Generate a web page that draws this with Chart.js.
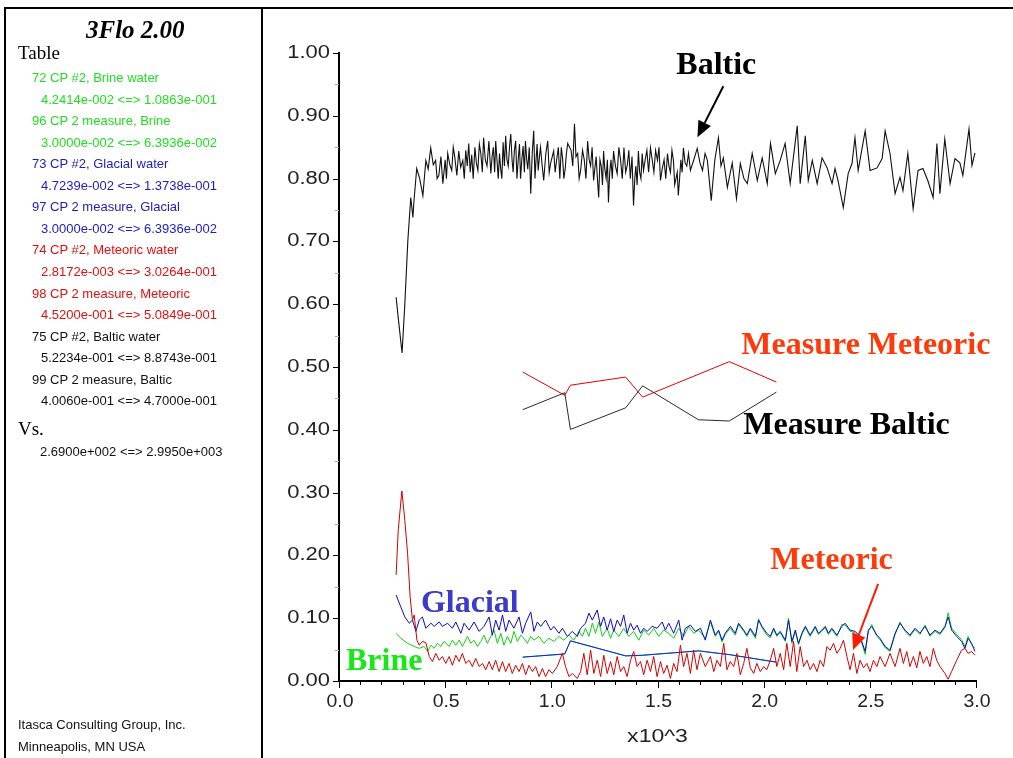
<!DOCTYPE html>
<html>
<head>
<meta charset="utf-8">
<title>3Flo 2.00 - CP #2 water fractions</title>
<script src="https://cdn.jsdelivr.net/npm/chart.js@4.4.1/dist/chart.umd.min.js"></script>
<style>
  html, body { margin: 0; padding: 0; background: #fff; width: 1013px; height: 758px; overflow: hidden; }
  #wrap { position: relative; width: 1013px; height: 758px; }
  #plot { position: absolute; left: 0; top: 0; }
  .rule { position: absolute; background: #000; z-index: 2; }
  .txt { position: absolute; white-space: nowrap; z-index: 3; transform: translateY(-50%);
         font-family: "Liberation Sans", Arial, sans-serif; font-size: 13px; line-height: 16px; }
  .serif { font-family: "Liberation Serif", "Times New Roman", serif; }
  #title { font-weight: bold; font-style: italic; font-size: 25px; line-height: 28px; }
  .head { font-size: 19px; line-height: 22px; }
</style>
</head>
<body>
<div id="wrap">
  <canvas id="plot" width="1013" height="758"></canvas>
  <div class="rule" style="left:4px;top:7px;width:2px;height:751px"></div>
  <div class="rule" style="left:4px;top:7px;width:1009px;height:2px"></div>
  <div class="rule" style="left:261px;top:7px;width:2px;height:751px"></div>
  <div id="panel"></div>
</div>
<script>
// ---- time axis values (x) and water fractions (y) per curve ----
const brine = [[269,.076],[291,.068],[323,.060],[354,.055],[378,.052],[401,.055],[417,.047],[433,.057],[448,.052],[464,.060],[480,.055],[495,.063],[519,.055],[534,.065],[550,.057],[566,.065],[581,.055],[605,.071],[621,.060],[636,.065],[652,.055],[668,.063],[683,.073],[699,.060],[715,.071],[730,.081],[746,.060],[762,.076],[777,.057],[793,.071],[809,.060],[824,.079],[840,.063],[856,.073],[871,.068],[887,.060],[903,.071],[918,.065],[942,.071],[965,.060],[989,.068],[1012,.063],[1036,.071],[1059,.065],[1083,.073],[1106,.065],[1130,.079],[1146,.071],[1161,.084],[1177,.071],[1193,.092],[1208,.076],[1224,.094],[1240,.071],[1263,.084],[1279,.068],[1294,.081],[1318,.071],[1341,.084],[1365,.071],[1388,.079],[1412,.065],[1435,.081],[1459,.073],[1482,.084],[1506,.071],[1529,.081],[1553,.076],[1576,.068],[1600,.084],[1623,.071],[1647,.087],[1670,.076],[1694,.081],[1725,.068],[1749,.094],[1772,.071],[1788,.079],[1804,.062],[1819,.074],[1843,.084],[1866,.073],[1882,.090],[1906,.079],[1921,.071],[1937,.082],[1961,.068],[1976,.099],[1992,.085],[2015,.073],[2031,.069],[2047,.082],[2062,.071],[2078,.077],[2102,.063],[2117,.100],[2133,.060],[2149,.079],[2164,.058],[2180,.074],[2196,.085],[2219,.071],[2243,.085],[2258,.074],[2274,.079],[2290,.085],[2305,.074],[2321,.082],[2345,.071],[2368,.090],[2384,.089],[2407,.079],[2431,.077],[2454,.069],[2478,.0424],[2493,.079],[2509,.090],[2533,.071],[2548,.066],[2572,.053],[2595,.047],[2619,.074],[2642,.094],[2666,.079],[2689,.071],[2713,.082],[2736,.074],[2760,.089],[2783,.071],[2807,.079],[2830,.074],[2854,.085],[2869,.1086],[2885,.084],[2909,.074],[2932,.066],[2948,.055],[2963,.071],[2979,.058],[2995,.052]];

const glacial = [[269,.137],[291,.118],[310,.102],[331,.092],[346,.097],[362,.079],[378,.097],[393,.102],[409,.084],[433,.092],[448,.087],[472,.094],[487,.087],[511,.092],[534,.084],[550,.094],[574,.076],[589,.092],[613,.081],[636,.094],[660,.079],[683,.087],[707,.102],[722,.073],[738,.097],[754,.081],[770,.105],[785,.079],[801,.097],[824,.084],[848,.102],[864,.076],[879,.092],[903,.110],[918,.079],[934,.094],[950,.087],[973,.097],[997,.081],[1012,.087],[1036,.076],[1052,.084],[1075,.071],[1099,.079],[1122,.071],[1138,.084],[1161,.092],[1177,.108],[1193,.097],[1216,.113],[1232,.087],[1247,.102],[1263,.081],[1279,.099],[1294,.079],[1310,.097],[1326,.087],[1341,.105],[1357,.076],[1373,.092],[1388,.081],[1404,.089],[1420,.076],[1435,.084],[1451,.079],[1475,.087],[1498,.084],[1522,.094],[1537,.081],[1553,.092],[1576,.076],[1600,.097],[1616,.065],[1631,.084],[1655,.089],[1678,.079],[1702,.084],[1725,.065],[1749,.097],[1772,.073],[1788,.081],[1804,.065],[1819,.076],[1843,.087],[1866,.076],[1882,.092],[1906,.081],[1921,.073],[1937,.084],[1961,.071],[1976,.097],[1992,.087],[2015,.076],[2031,.071],[2047,.084],[2062,.073],[2078,.079],[2102,.065],[2117,.097],[2133,.063],[2149,.081],[2164,.060],[2180,.076],[2196,.087],[2219,.073],[2243,.087],[2258,.076],[2274,.081],[2290,.087],[2305,.076],[2321,.084],[2345,.073],[2368,.087],[2384,.092],[2407,.081],[2431,.079],[2454,.071],[2478,.047],[2493,.081],[2509,.087],[2533,.073],[2548,.068],[2572,.055],[2595,.049],[2619,.076],[2642,.092],[2666,.081],[2689,.073],[2713,.084],[2736,.076],[2760,.087],[2783,.073],[2807,.081],[2830,.076],[2854,.087],[2869,.102],[2885,.081],[2909,.071],[2932,.063],[2948,.052],[2963,.068],[2979,.060],[2995,.0472]];

const meteoric = [[269,.169],[279,.240],[296,.3026],[310,.256],[323,.203],[335,.134],[346,.097],[354,.105],[367,.065],[378,.057],[393,.063],[409,.061],[425,.039],[440,.031],[456,.044],[472,.033],[487,.039],[503,.028],[519,.039],[534,.025],[550,.041],[566,.031],[581,.044],[597,.028],[613,.033],[628,.023],[644,.036],[660,.023],[676,.028],[691,.018],[707,.031],[722,.018],[738,.033],[754,.015],[770,.031],[785,.015],[801,.028],[816,.012],[832,.025],[848,.015],[864,.028],[879,.010],[895,.025],[911,.015],[926,.023],[942,.007],[958,.020],[973,.007],[989,.018],[1005,.012],[1028,.023],[1052,.044],[1067,.023],[1083,.007],[1099,.012],[1122,.004],[1138,.015],[1153,.044],[1169,.010],[1185,.049],[1200,.012],[1216,.033],[1232,.007],[1247,.041],[1263,.012],[1279,.031],[1294,.010],[1310,.039],[1326,.015],[1341,.023],[1357,.007],[1373,.033],[1388,.047],[1404,.023],[1420,.031],[1435,.010],[1451,.033],[1467,.015],[1482,.039],[1498,.007],[1514,.031],[1529,.012],[1545,.025],[1561,.004],[1576,.028],[1592,.015],[1608,.057],[1623,.023],[1639,.044],[1655,.012],[1670,.049],[1686,.018],[1702,.044],[1725,.023],[1749,.039],[1765,.015],[1780,.033],[1796,.023],[1812,.060],[1827,.018],[1843,.031],[1859,.023],[1874,.044],[1890,.010],[1906,.028],[1921,.052],[1937,.021],[1953,.012],[1968,.028],[1984,.015],[2000,.023],[2015,.018],[2031,.033],[2047,.052],[2062,.023],[2078,.044],[2094,.018],[2109,.060],[2125,.023],[2141,.063],[2156,.015],[2172,.055],[2188,.023],[2204,.033],[2219,.018],[2235,.028],[2251,.015],[2266,.033],[2282,.023],[2298,.055],[2313,.049],[2329,.060],[2345,.044],[2360,.052],[2376,.065],[2392,.039],[2407,.018],[2423,.044],[2439,.012],[2454,.033],[2470,.021],[2486,.028],[2501,.015],[2517,.033],[2533,.023],[2548,.039],[2572,.023],[2595,.044],[2619,.023],[2642,.052],[2658,.028],[2674,.047],[2689,.023],[2705,.039],[2721,.021],[2736,.047],[2752,.028],[2768,.039],[2783,.023],[2799,.052],[2815,.033],[2830,.023],[2854,.012],[2869,.0028],[2885,.015],[2909,.033],[2932,.049],[2948,.052],[2963,.044],[2979,.047],[2995,.041]];

const baltic = [[269,.611],[280,.575],[297,.5223],[310,.60],[324,.70],[338,.77],[348,.738],[352,.76],[366,.816],[380,.80],[395,.773],[409,.829],[420,.815],[432,.849],[444,.822],[455,.829],[462,.80],[470,.805],[480,.835],[489,.792],[500,.83],[506,.80],[512,.84],[522,.822],[531,.813],[538,.85],[545,.835],[555,.805],[564,.844],[573,.818],[583,.829],[590,.80],[597,.845],[604,.82],[611,.856],[618,.81],[625,.838],[632,.80],[640,.85],[647,.825],[654,.813],[661,.855],[668,.84],[675,.81],[681,.865],[689,.83],[697,.82],[706,.86],[715,.808],[721,.835],[727,.85],[733,.81],[738,.86],[744,.83],[750,.80],[756,.84],[761,.817],[767,.80],[773,.858],[779,.82],[785,.868],[791,.83],[797,.82],[803,.85],[809,.871],[815,.83],[820,.81],[826,.845],[832,.86],[838,.80],[844,.83],[850,.855],[855,.80],[861,.83],[867,.852],[873,.81],[878,.86],[884,.83],[889,.815],[896,.85],[903,.776],[910,.84],[917,.876],[923,.80],[928,.83],[933,.855],[938,.813],[944,.835],[949,.85],[957,.82],[964,.797],[974,.84],[983,.86],[990,.81],[997,.825],[1011,.844],[1018,.81],[1025,.83],[1033,.85],[1040,.80],[1047,.85],[1053,.832],[1059,.80],[1065,.815],[1071,.84],[1077,.856],[1093,.845],[1101,.82],[1109,.8874],[1116,.835],[1124,.84],[1131,.80],[1138,.813],[1147,.845],[1155,.83],[1163,.80],[1171,.86],[1178,.83],[1185,.82],[1192,.85],[1199,.797],[1211,.835],[1217,.80],[1223,.77],[1229,.83],[1235,.82],[1241,.79],[1246,.844],[1252,.815],[1258,.80],[1264,.83],[1269,.762],[1275,.81],[1281,.83],[1287,.80],[1293,.844],[1302,.82],[1310,.808],[1318,.85],[1326,.83],[1334,.80],[1342,.849],[1350,.81],[1358,.822],[1365,.845],[1372,.80],[1380,.835],[1387,.757],[1393,.80],[1398,.82],[1404,.79],[1410,.844],[1416,.81],[1422,.80],[1428,.84],[1434,.813],[1442,.83],[1450,.845],[1458,.81],[1467,.849],[1475,.83],[1483,.81],[1491,.845],[1500,.829],[1507,.85],[1514,.797],[1522,.815],[1531,.83],[1539,.80],[1547,.84],[1554,.82],[1561,.81],[1568,.845],[1575,.829],[1581,.79],[1587,.80],[1593,.81],[1598,.773],[1604,.80],[1610,.83],[1616,.81],[1622,.849],[1630,.825],[1638,.82],[1646,.84],[1655,.813],[1671,.83],[1687,.848],[1700,.825],[1712,.813],[1724,.84],[1735,.829],[1753,.765],[1770,.83],[1787,.865],[1799,.82],[1810,.833],[1829,.786],[1852,.825],[1872,.768],[1890,.824],[1907,.80],[1923,.792],[1946,.84],[1970,.797],[1993,.833],[2017,.792],[2032,.856],[2055,.808],[2078,.829],[2101,.856],[2125,.792],[2158,.884],[2172,.792],[2196,.868],[2210,.797],[2229,.829],[2252,.792],[2275,.833],[2299,.817],[2322,.792],[2336,.816],[2350,.797],[2375,.754],[2398,.808],[2416,.824],[2430,.865],[2445,.813],[2478,.876],[2501,.813],[2534,.817],[2558,.832],[2572,.876],[2595,.84],[2619,.776],[2642,.802],[2656,.781],[2679,.84],[2704,.752],[2727,.813],[2750,.816],[2773,.797],[2798,.77],[2816,.856],[2830,.776],[2853,.863],[2878,.792],[2901,.832],[2924,.825],[2938,.805],[2958,.856],[2967,.879],[2981,.821],[2995,.841]];

// measured values at the sampling times
const measureTimes    = [865, 1063, 1090, 1350, 1430, 1693, 1838, 2060];
const measureBrine    = [0.038, 0.043, 0.0639, 0.040, 0.041, 0.048, 0.042, 0.030];
const measureGlacial  = [0.038, 0.043, 0.0639, 0.040, 0.041, 0.048, 0.042, 0.030];
const measureMeteoric = [0.492, 0.455, 0.471, 0.484, 0.452, null, 0.5085, 0.476];
const measureBaltic   = [0.432, 0.459, 0.4006, 0.435, 0.470, 0.416, 0.414, 0.460];

// axis ranges and tick steps
const xRange = [0, 3000], xMajor = 500, xMinor = 100;
const yRange = [0, 1], yMajor = 0.1, yMinor = 0.05;

// side table of plotted histories
const tableEntries = [
  ['72 CP #2, Brine water',     '4.2414e-002 <=> 1.0863e-001', '#1fe01f'],
  ['96 CP 2 measure, Brine',    '3.0000e-002 <=> 6.3936e-002', '#1fe01f'],
  ['73 CP #2, Glacial water',   '4.7239e-002 <=> 1.3738e-001', '#1c1cc8'],
  ['97 CP 2 measure, Glacial',  '3.0000e-002 <=> 6.3936e-002', '#1c1cc8'],
  ['74 CP #2, Meteoric water',  '2.8172e-003 <=> 3.0264e-001', '#e41010'],
  ['98 CP 2 measure, Meteoric', '4.5200e-001 <=> 5.0849e-001', '#e41010'],
  ['75 CP #2, Baltic water',    '5.2234e-001 <=> 8.8743e-001', '#111111'],
  ['99 CP 2 measure, Baltic',   '4.0060e-001 <=> 4.7000e-001', '#111111']
];
const vsRange = '2.6900e+002 <=> 2.9950e+003';

// in-plot callouts (positions in data units)
const callouts = [
  { text: 'Baltic',           x: 1777, y: 0.966, color: '#000000', align: 'center' },
  { text: 'Measure Meteoric', x: 1895, y: 0.521, color: '#ff3a0a', align: 'left' },
  { text: 'Measure Baltic',   x: 1904, y: 0.393, color: '#000000', align: 'left' },
  { text: 'Meteoric',         x: 2031, y: 0.178, color: '#ff3a0a', align: 'left' },
  { text: 'Glacial',          x: 386,  y: 0.110, color: '#3a3acc', align: 'left' },
  { text: 'Brine',            x: 33,   y: 0.0175, color: '#18e818', align: 'left' }
];
const pointers = [
  { from: [1810, 0.947], to: [1688, 0.866], color: '#000000' },
  { from: [2539, 0.1545], to: [2421, 0.0494], color: '#ff1a00' }
];

// ---- side panel text ----
const panel = document.getElementById('panel');
function addText(str, left, top, cls, color) {
  const d = document.createElement('div');
  d.className = 'txt' + (cls ? ' ' + cls : '');
  d.style.left = left + 'px';
  d.style.top = top + 'px';
  if (color) d.style.color = color;
  d.textContent = str;
  panel.appendChild(d);
  return d;
}
const t = addText('3Flo 2.00', 86, 30, 'serif');
t.id = 'title';
addText('Table', 18, 53, 'serif head');
tableEntries.forEach((e, i) => {
  const y0 = 78 + i * 43.1;
  addText(e[0], 32, y0, '', e[2]);
  addText(e[1], 41, y0 + 21.6, '', e[2]);
});
addText('Vs.', 18, 429, 'serif head');
addText(vsRange, 40, 452, '', '#111');
addText('Itasca Consulting Group, Inc.', 18, 725, '', '#111');
addText('Minneapolis, MN  USA', 18, 747, '', '#111');

// ---- chart ----
const toXY = arr => arr.map(p => ({ x: p[0], y: p[1] }));
const measured = ys => measureTimes.map((x, i) => ({ x, y: ys[i] })).filter(p => p.y !== null);

// draws a string stretched horizontally around its anchor
function wideText(ctx, str, px, py, sx, align) {
  ctx.save();
  ctx.translate(px, py);
  ctx.scale(sx, 1);
  ctx.textAlign = align;
  ctx.textBaseline = 'middle';
  ctx.fillText(str, 0, 0);
  ctx.restore();
}

const decor = {
  id: 'decor',
  afterDraw(chart) {
    const { ctx, chartArea: a, scales: { x, y } } = chart;
    ctx.save();
    // tick marks
    ctx.lineWidth = 1;
    for (let v = xRange[0]; v <= xRange[1] + 1e-6; v += xMinor) {
      const px = Math.round(x.getPixelForValue(v)) + 0.5;
      const major = Math.abs(v % xMajor) < 1e-6;
      ctx.strokeStyle = '#000';
      ctx.beginPath(); ctx.moveTo(px, a.bottom); ctx.lineTo(px, a.bottom + (major ? 7 : 4)); ctx.stroke();
    }
    for (let k = 0; k <= Math.round((yRange[1] - yRange[0]) / yMinor); k++) {
      const v = yRange[0] + k * yMinor;
      const py = Math.round(y.getPixelForValue(v)) + 0.5;
      const major = k % 2 === 0;
      ctx.strokeStyle = major ? '#000' : '#aaa';
      ctx.beginPath(); ctx.moveTo(a.left, py); ctx.lineTo(a.left - (major ? 6 : 4), py); ctx.stroke();
    }
    // tick labels from the scales' own ticks
    ctx.fillStyle = '#222';
    ctx.font = '18px "Liberation Sans", Arial, sans-serif';
    y.ticks.forEach(tk => wideText(ctx, tk.value.toFixed(2), a.left - 9, y.getPixelForValue(tk.value), 1.22, 'right'));
    x.ticks.forEach(tk => wideText(ctx, (tk.value / 1000).toFixed(1), x.getPixelForValue(tk.value) + 1, 702, 1.08, 'center'));
    // axis unit
    wideText(ctx, 'x10^3', (a.left + a.right) / 2, 737, 1.28, 'center');
    // callout labels
    ctx.font = 'bold 32px "Liberation Serif", "Times New Roman", serif';
    ctx.textBaseline = 'alphabetic';
    callouts.forEach(c => {
      ctx.fillStyle = c.color;
      ctx.textAlign = c.align;
      ctx.fillText(c.text, x.getPixelForValue(c.x), y.getPixelForValue(c.y));
    });
    // pointer arrows
    pointers.forEach(p => {
      const x0 = x.getPixelForValue(p.from[0]), y0 = y.getPixelForValue(p.from[1]);
      const x1 = x.getPixelForValue(p.to[0]), y1 = y.getPixelForValue(p.to[1]);
      const ang = Math.atan2(y1 - y0, x1 - x0);
      const head = 16, half = 7;
      const bx = x1 - head * Math.cos(ang), by = y1 - head * Math.sin(ang);
      ctx.strokeStyle = p.color; ctx.fillStyle = p.color; ctx.lineWidth = 2;
      ctx.beginPath(); ctx.moveTo(x0, y0); ctx.lineTo(bx, by); ctx.stroke();
      ctx.beginPath();
      ctx.moveTo(x1, y1);
      ctx.lineTo(bx + half * Math.sin(ang), by - half * Math.cos(ang));
      ctx.lineTo(bx - half * Math.sin(ang), by + half * Math.cos(ang));
      ctx.closePath(); ctx.fill();
    });
    ctx.restore();
  }
};

const line = (data, color, width) => ({
  data, borderColor: color, borderWidth: width || 1, pointRadius: 0, tension: 0, fill: false
});

new Chart(document.getElementById('plot'), {
  type: 'line',
  data: {
    datasets: [
      line(measured(measureBaltic), '#2a2a2a'),
      line(toXY(baltic), '#111111', 1.1),
      line(measured(measureMeteoric), '#e80000'),
      line(toXY(meteoric), '#d40000'),
      line(measured(measureGlacial), '#1a1aff'),
      line(toXY(glacial), '#0a0ad2'),
      line(measured(measureBrine), '#00d000'),
      line(toXY(brine), '#10d010')
    ]
  },
  options: {
    responsive: false,
    devicePixelRatio: 1,
    animation: false,
    events: [],
    layout: { padding: { left: 262, right: 37, top: 53, bottom: 0 } },
    plugins: { legend: { display: false }, tooltip: { enabled: false } },
    scales: {
      x: {
        type: 'linear', min: xRange[0], max: xRange[1],
        grid: { display: false },
        border: { display: true, color: '#000', width: 2 },
        ticks: { stepSize: xMajor, autoSkip: false, maxRotation: 0, display: false },
        afterFit: s => { s.height = 77; }
      },
      y: {
        type: 'linear', min: yRange[0], max: yRange[1],
        grid: { display: false },
        border: { display: true, color: '#000', width: 2 },
        ticks: { stepSize: yMajor, autoSkip: false, display: false },
        afterFit: s => { s.width = 77; }
      }
    }
  },
  plugins: [decor]
});
</script>
</body>
</html>
